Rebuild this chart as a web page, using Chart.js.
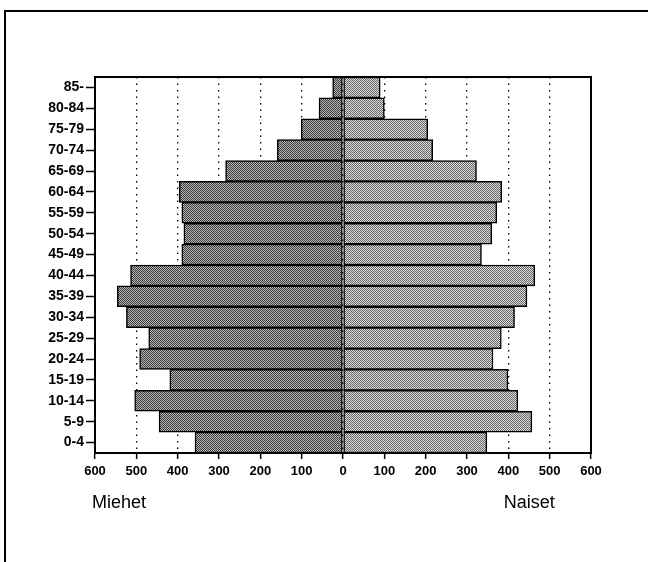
<!DOCTYPE html>
<html>
<head>
<meta charset="utf-8">
<script src="https://cdn.jsdelivr.net/npm/chart.js@4/dist/chart.umd.min.js"></script>
<style>
  html, body { margin: 0; padding: 0; background: #fff; overflow: hidden; }
  #frame { position: absolute; left: 4px; top: 10px; width: 700px; height: 600px;
           border-top: 2px solid #000; border-left: 2px solid #000; }
  #myChart { position: absolute; left: 0; top: 0; }
</style>
</head>
<body>
<div id="frame"></div>
<canvas id="myChart" width="648" height="562"></canvas>
<script>
// age groups, bottom to top
const ageGroups = ['0-4', '5-9', '10-14', '15-19', '20-24', '25-29', '30-34', '35-39', '40-44',
  '45-49', '50-54', '55-59', '60-64', '65-69', '70-74', '75-79', '80-84', '85-'];
const men   = [358, 445, 504, 419, 492, 470, 524, 546, 514, 390, 385, 390, 396, 284, 159, 101, 58, 25];
const women = [348, 457, 423, 399, 363, 383, 415, 445, 464, 335, 360, 372, 384, 323, 217, 205, 100, 90];
const xTicks = [-600, -500, -400, -300, -200, -100, 0, 100, 200, 300, 400, 500, 600];

// halftone-ish fill like the scanned original (checkerboard)
function dither(dark, light) {
  const c = document.createElement('canvas');
  c.width = 2; c.height = 2;
  const g = c.getContext('2d');
  for (let y = 0; y < 2; y++) {
    for (let x = 0; x < 2; x++) {
      g.fillStyle = (x + y) % 2 === 0 ? dark : light;
      g.fillRect(x, y, 1, 1);
    }
  }
  return g.createPattern(c, 'repeat');
}

const framePlugin = {
  id: 'framePlugin',
  afterDraw(chart) {
    const {ctx, chartArea: a} = chart;
    const x = chart.scales.x;
    ctx.save();
    ctx.strokeStyle = '#000';
    ctx.lineWidth = 2;
    ctx.strokeRect(a.left, a.top, a.right - a.left, a.bottom - a.top);
    ctx.fillStyle = '#000';
    ctx.font = '18px "Liberation Sans", Arial, sans-serif';
    ctx.textBaseline = 'middle';
    ctx.textAlign = 'left';
    ctx.fillText('Miehet', a.left - 3, 503);
    ctx.textAlign = 'right';
    ctx.fillText('Naiset', x.getPixelForValue(500) + 5, 503);
    ctx.restore();
  }
};

new Chart(document.getElementById('myChart').getContext('2d'), {
  type: 'bar',
  data: {
    labels: ageGroups,
    datasets: [
      {
        label: 'Miehet',
        data: men.map(v => -v),
        backgroundColor: dither('#3a3a3a', '#b8b8b8'),
        borderColor: '#000',
        borderWidth: 1.5,
        borderSkipped: false,
        barPercentage: 1,
        categoryPercentage: 1
      },
      {
        label: 'Naiset',
        data: women,
        backgroundColor: dither('#666', '#dcdcdc'),
        borderColor: '#000',
        borderWidth: 1.5,
        borderSkipped: false,
        barPercentage: 1,
        categoryPercentage: 1
      }
    ]
  },
  options: {
    indexAxis: 'y',
    responsive: false,
    animation: false,
    layout: { padding: { top: 77, right: 57, bottom: 0, left: 0 } },
    plugins: { legend: { display: false }, tooltip: { enabled: false } },
    scales: {
      x: {
        stacked: true,
        min: -600,
        max: 600,
        afterBuildTicks: axis => { axis.ticks = xTicks.map(v => ({ value: v })); },
        afterFit: axis => { axis.height = 109; },
        grid: {
          color: '#000',
          lineWidth: 1.3,
          drawTicks: true,
          tickLength: 6,
          tickColor: '#000',
          tickWidth: 1.5,
          tickBorderDash: []
        },
        border: { display: true, color: '#000', width: 2, dash: [1.5, 5] },
        ticks: {
          color: '#000',
          padding: 5,
          maxRotation: 0,
          font: { family: '"Liberation Sans", Arial, sans-serif', size: 13, weight: 'bold' },
          callback: v => Math.abs(v)
        }
      },
      y: {
        stacked: true,
        reverse: true,
        afterFit: axis => { axis.width = 95; },
        grid: {
          offset: false,
          drawOnChartArea: false,
          drawTicks: true,
          tickLength: 9,
          tickColor: '#000',
          tickWidth: 1.5
        },
        border: { display: true, color: '#000', width: 2 },
        ticks: {
          color: '#000',
          padding: 2,
          font: { family: '"Liberation Sans", Arial, sans-serif', size: 14, weight: 'bold' }
        }
      }
    }
  },
  plugins: [framePlugin]
});
</script>
</body>
</html>
